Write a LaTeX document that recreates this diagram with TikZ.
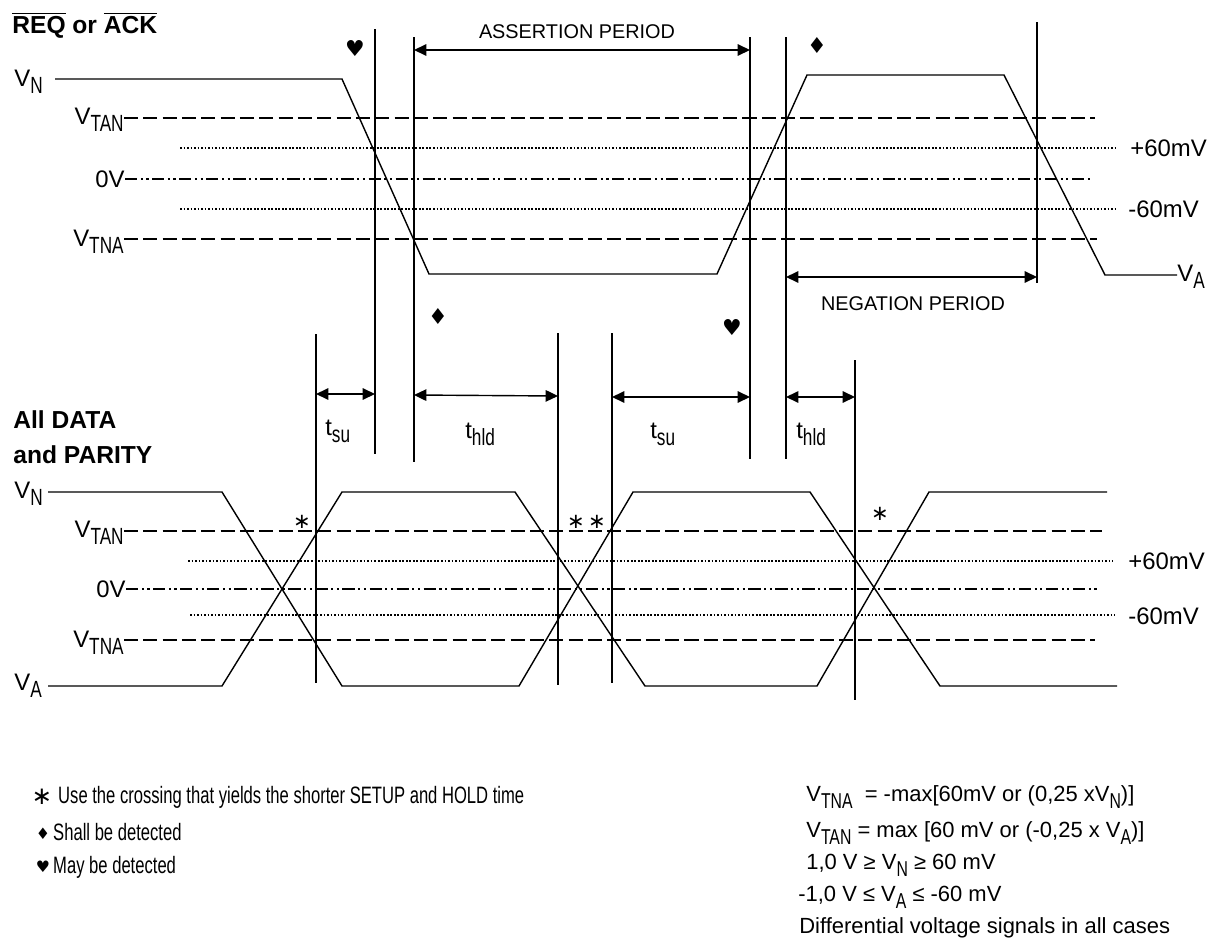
\documentclass[tikz,border=0pt]{standalone}
\usepackage{fontspec}
\setmainfont{Liberation Sans}
\newfontfamily\symfont{DejaVu Sans}
\usepackage{tikz}
\usetikzlibrary{arrows.meta, positioning, calc}

\newcommand{\lowsub}[1]{\raisebox{-0.33em}{\scalebox{0.72}[0.98]{#1}}}

\begin{document}
\begin{tikzpicture}[
    x=0.02cm, y=-0.02cm,
    sig/.style={line width=0.8pt},
    guide/.style={line width=0.8pt},
    tanline/.style={line width=0.8pt, dash pattern=on 8pt off 3pt},
    mvline/.style={line width=1.6pt, dash pattern=on 1pt off 1pt},
    zeroline/.style={line width=0.7pt, dash pattern=on 7pt off 2pt on 1.2pt off 2pt on 1.2pt off 2pt},
    lvl/.style={font=\fontsize{13.6}{16}\selectfont, inner sep=0pt},
    sigtitle/.style={font=\fontsize{14}{16}\selectfont\bfseries, inner sep=0pt, anchor=base west},
    period/.style={font=\fontsize{11.3}{13}\selectfont, inner sep=0pt, anchor=base},
    note/.style={font=\fontsize{12.5}{14}\selectfont, inner sep=0pt, anchor=base west},
    narrownote/.style={font=\fontsize{13.5}{15}\selectfont, inner sep=0pt, anchor=base west, xscale=0.7},
    suit/.style={font=\symfont\fontsize{12.5}{13}\selectfont, inner sep=0pt},
    astx/.style={font=\symfont\fontsize{12}{13}\selectfont, inner sep=0pt},
    dimarrow/.style={{Triangle[length=7pt,width=6.5pt]}-{Triangle[length=7pt,width=6.5pt]}, line width=0.8pt},
]
    \useasboundingbox (0,0) rectangle (1215,940);

    % REQ / ACK signal
    \node[sigtitle] (req) at (12,33) {$\overline{\mbox{REQ}}$ or $\overline{\mbox{ACK}}$};
    \node[lvl, anchor=base west] (vn1) at (14,86) {V\lowsub{N}};
    \node[lvl, anchor=base east] (tan1) at (124,124) {V\lowsub{TAN}};
    \node[lvl, anchor=base east] (zero1) at (125,187) {0V};
    \node[lvl, anchor=base east] (tna1) at (124,246) {V\lowsub{TNA}};
    \node[lvl, anchor=base west] (pos1) at (1130,156) {+60mV};
    \node[lvl, anchor=base west] (neg1) at (1128,217) {-60mV};
    \node[lvl, anchor=base west] (va1) at (1177,281) {V\lowsub{A}};

    \draw[tanline] (tan1.east |- 0,118) -- (1095,118);
    \draw[mvline] (180,148) -- (1118,148);
    \draw[zeroline] (zero1.east |- 0,179) -- (1092,179);
    \draw[mvline] (180,209) -- (1115,209);
    \draw[tanline] (tna1.east |- 0,239) -- (1097,239);

    \draw[sig] (55,79) -- (342,79) -- (429,274) -- (717,274) -- (807,75)
        -- (1004,75) -- (1105,275) -- (va1.west |- 0,275);

    % timing marks
    \coordinate (g1) at (375,29);  \coordinate (g1e) at (375,454);
    \coordinate (g2) at (414,37);  \coordinate (g2e) at (414,462);
    \coordinate (g3) at (750,37);  \coordinate (g3e) at (750,459);
    \coordinate (g4) at (786,37);  \coordinate (g4e) at (786,459);
    \coordinate (g5) at (1037,22); \coordinate (g5e) at (1037,283);
    \coordinate (m1) at (316,334); \coordinate (m1e) at (316,683);
    \coordinate (m2) at (558,333); \coordinate (m2e) at (558,685);
    \coordinate (m3) at (612,333); \coordinate (m3e) at (612,683);
    \coordinate (m4) at (855,360); \coordinate (m4e) at (855,700);
    \draw[guide] (g1) -- (g1e);
    \draw[guide] (g2) -- (g2e);
    \draw[guide] (g3) -- (g3e);
    \draw[guide] (g4) -- (g4e);
    \draw[guide] (g5) -- (g5e);
    \draw[guide] (m1) -- (m1e);
    \draw[guide] (m2) -- (m2e);
    \draw[guide] (m3) -- (m3e);
    \draw[guide] (m4) -- (m4e);

    \draw[dimarrow] (g2 |- 0,50) -- (g3 |- 0,50);
    \node[period] (asrt) at (577,38) {ASSERTION PERIOD};
    \draw[dimarrow] (g4 |- 0,277) -- (g5 |- 0,277);
    \node[period] (negt) at (913,310) {NEGATION PERIOD};

    \draw[dimarrow] (m1 |- 0,394) -- (g1 |- 0,394);
    \draw[dimarrow] (g2 |- 0,395) -- (m2 |- 0,396);
    \draw[dimarrow] (m3 |- 0,397) -- (g3 |- 0,397);
    \draw[dimarrow] (g4 |- 0,397) -- (m4 |- 0,397);
    \node[lvl, anchor=base west] (su1) at (325,435) {t\lowsub{su}};
    \node[lvl, anchor=base west] (hd1) at (465,438) {t\lowsub{hld}};
    \node[lvl, anchor=base west] (su2) at (650,438) {t\lowsub{su}};
    \node[lvl, anchor=base west] (hd2) at (796,438) {t\lowsub{hld}};

    \node[suit] (hrt1) at (355,48) {♥};
    \node[suit] (dia1) at (817,45) {♦};
    \node[suit] (dia2) at (438,316) {♦};
    \node[suit] (hrt2) at (732,327) {♥};

    % DATA and PARITY signals
    \node[sigtitle] (dat) at (13,428) {All DATA};
    \node[sigtitle] (par) at (13,463) {and PARITY};
    \node[lvl, anchor=base west] (vn2) at (14,498) {V\lowsub{N}};
    \node[lvl, anchor=base east] (tan2) at (124,537) {V\lowsub{TAN}};
    \node[lvl, anchor=base east] (zero2) at (126,597) {0V};
    \node[lvl, anchor=base east] (tna2) at (124,647) {V\lowsub{TNA}};
    \node[lvl, anchor=base west] (va2) at (14,690) {V\lowsub{A}};
    \node[lvl, anchor=base west] (pos2) at (1128,569) {+60mV};
    \node[lvl, anchor=base west] (neg2) at (1128,624) {-60mV};

    \draw[tanline] (tan2.east |- 0,531) -- (1102,531);
    \draw[mvline] (188,561) -- (1113,561);
    \draw[zeroline] (zero2.east |- 0,589) -- (1100,589);
    \draw[mvline] (190,615) -- (1115,615);
    \draw[tanline] (tna2.east |- 0,640) -- (1095,640);

    \draw[sig] (48,492) -- (222,492) -- (342,686) -- (519,686) -- (633,492)
        -- (810,492) -- (940,686) -- (1117,686);
    \draw[sig] (48,686) -- (222,686) -- (342,492) -- (515,492) -- (645,686)
        -- (817,686) -- (929,492) -- (1107,492);

    \node[astx] (c1) at (302,522) {∗};
    \node[astx] (c2) at (576,522) {∗};
    \node[astx] (c3) at (597,522) {∗};
    \node[astx] (c4) at (880,514) {∗};

    % notes
    \node[astx, font=\symfont\fontsize{14}{15}\selectfont] (ka) at (42,797) {∗};
    \node[narrownote] (kat) at (58,803) {Use the crossing that yields the shorter SETUP and HOLD time};
    \node[suit, font=\symfont\fontsize{9}{10}\selectfont] (kd) at (43,834) {♦};
    \node[narrownote] (kdt) at (53,840) {Shall be detected};
    \node[suit, font=\symfont\fontsize{9}{10}\selectfont] (kh) at (43,867) {♥};
    \node[narrownote] (kht) at (53,873) {May be detected};

    \node[note] (r1) at (806,801) {V\lowsub{TNA}~ = -max[60mV or (0,25 xV\lowsub{N})]};
    \node[note] (r2) at (806,837) {V\lowsub{TAN} = max [60 mV or (-0,25 x V\lowsub{A})]};
    \node[note] (r3) at (806,869) {1,0 V ≥ V\lowsub{N} ≥ 60 mV};
    \node[note] (r4) at (798,901) {-1,0 V ≤ V\lowsub{A} ≤ -60 mV};
    \node[note] (r5) at (799,933) {Differential voltage signals in all cases};
\end{tikzpicture}
\end{document}
